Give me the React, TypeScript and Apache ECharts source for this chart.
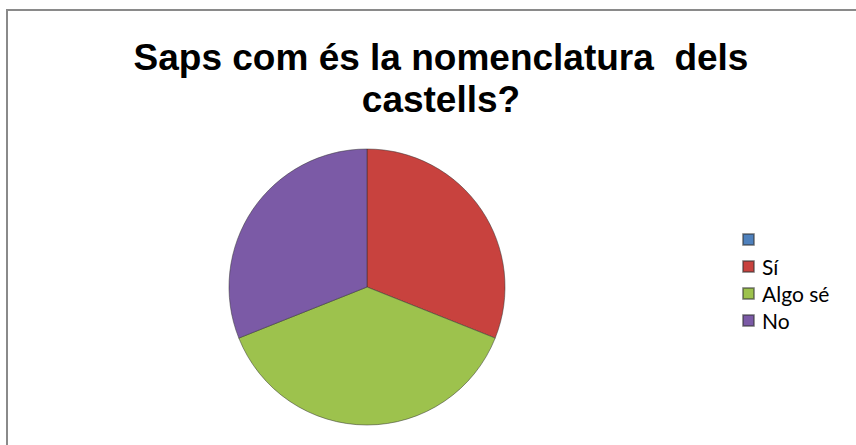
import React, { useEffect, useRef } from "react";
import * as echarts from "echarts";

const titleText = "Saps com és la nomenclatura  dels\ncastells?";
const categories = [" ", "Sí", "Algo sé", "No"];
const values = [0, 9, 11, 9];
const colors = ["#4F81BD", "#C8423E", "#9DC24D", "#7B5AA6"];

export default function App() {
  const ref = useRef<HTMLDivElement>(null);
  useEffect(() => {
    if (!ref.current) return;
    const chart = echarts.init(ref.current, undefined, { renderer: "svg" });
    chart.setOption({
      animation: false,
      backgroundColor: "#ffffff",
      color: colors,
      title: {
        text: titleText,
        left: 436,
        top: 31,
        textAlign: "center",
        textStyle: {
          fontFamily: "Liberation Sans",
          fontWeight: "bold",
          fontSize: 37,
          lineHeight: 42,
          color: "#000000",
        },
      },
      graphic: [
        {
          type: "rect",
          shape: { x: 7, y: 10, width: 900, height: 500 },
          style: { fill: "none", stroke: "#8a8a8a", lineWidth: 2 },
          silent: true,
          z: -1,
        },
      ],
      legend: {
        orient: "vertical",
        left: 737,
        top: 224,
        itemWidth: 11,
        itemHeight: 11,
        itemGap: 6,
        icon: "rect",
        textStyle: {
          fontFamily: "Lato",
          fontSize: 21,
          lineHeight: 20,
          color: "#000000",
          padding: [0, 0, 0, 3],
        },
        data: categories,
      },
      series: [
        {
          type: "pie",
          center: [367, 287],
          radius: 138,
          startAngle: 90,
          clockwise: true,
          label: { show: false },
          labelLine: { show: false },
          emphasis: { disabled: true },
          itemStyle: {
            borderColor: "rgba(50,50,50,0.5)",
            borderWidth: 1,
          },
          data: categories.map((name, i) => ({ name, value: values[i] })),
        },
      ],
    });
    return () => chart.dispose();
  }, []);
  return (
    <div
      ref={ref}
      style={{ position: "fixed", left: 0, top: 0, width: 856, height: 445 }}
    />
  );
}
